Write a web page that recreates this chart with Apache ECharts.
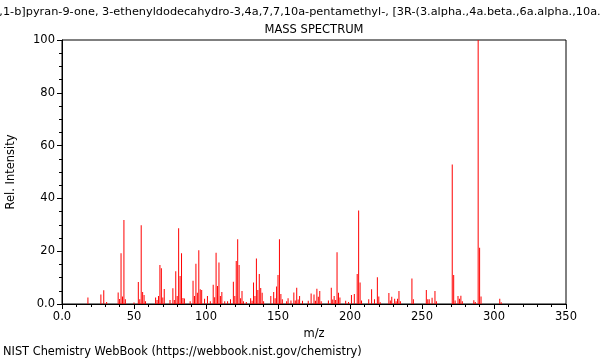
<!DOCTYPE html>
<html><head><meta charset="utf-8">
<script src="https://cdn.jsdelivr.net/npm/echarts@6/dist/echarts.min.js"></script>
<style>html,body{margin:0;padding:0;background:#fff}#c{width:600px;height:360px}</style>
</head><body><div id="c"></div>
<script>
const titleText = "1H-Naphtho[2,1-b]pyran-9-one, 3-ethenyldodecahydro-3,4a,7,7,10a-pentamethyl-, [3R-(3.alpha.,4a.beta.,6a.alpha.,10a.beta.,10b.alpha.)]-";
const subTitle = "MASS SPECTRUM";
const xName = "m/z";
const yName = "Rel. Intensity";
const footer = "NIST Chemistry WebBook (https://webbook.nist.gov/chemistry)";
const xTicks = [0, 50, 100, 150, 200, 250, 300, 350];
const yTicks = [0, 20, 40, 60, 80, 100];
const mz = [18,27,29,31,39,40,41,42,43,44,50,53,54,55,56,57,58,65,66,67,68,69,70,71,75,77,78,79,80,81,82,83,84,85,89,91,92,93,94,95,96,97,99,101,103,105,106,107,108,109,110,111,113,115,117,119,120,121,122,123,124,125,126,128,131,132,133,134,135,136,137,138,139,140,145,147,148,149,150,151,152,153,156,157,159,161,162,163,164,165,167,171,173,175,176,177,178,179,180,185,187,188,189,190,191,192,193,197,199,201,203,205,206,207,208,213,215,217,219,220,221,227,228,229,231,232,233,234,235,243,244,253,254,255,257,259,260,271,272,273,275,276,277,278,286,287,289,290,291,304,305];
const intensity = [2.5,3.6,5.2,0.8,4.4,1.9,19.2,2.8,31.8,1.8,0.6,8.3,1.8,29.8,4.5,3.4,1.0,2.5,1.5,3.0,14.8,13.5,2.5,5.7,1.5,6.0,1.5,12.4,3.0,28.7,10.6,19.2,2.3,2.1,1.0,8.8,3.0,15.2,4.3,20.4,5.6,5.3,2.0,3.0,1.0,7.3,2.6,19.4,6.8,15.7,3.0,4.5,1.0,1.0,1.8,8.4,3.0,16.3,24.5,14.8,2.2,4.9,1.0,0.8,2.2,1.2,8.1,3.0,17.2,5.3,11.4,6.1,4.3,1.0,3.0,4.5,2.2,6.6,11.0,24.5,3.8,1.8,1.0,2.2,1.3,4.4,1.3,6.2,1.7,3.0,1.2,1.2,4.0,3.6,1.2,5.8,2.7,4.9,1.0,1.3,6.2,1.7,3.0,1.5,19.6,4.3,2.5,1.2,0.8,3.4,3.8,11.4,35.4,8.1,1.3,1.8,5.6,1.8,10.1,2.8,0.7,4.2,1.3,2.7,2.0,1.0,2.0,4.9,1.0,9.7,1.8,5.3,1.8,1.8,2.4,4.9,1.0,52.8,11.0,1.3,3.0,2.0,3.1,1.0,1.4,0.8,100,21.3,2.8,2.0,0.7];

const font = 'DejaVu Sans';
const chart = echarts.init(document.getElementById('c'), null, {renderer: 'canvas'});
const fmt = v => (v === 0 ? '0.0' : String(v));
const txt = (s, x, y, align, size) => ({
  type: 'text', x: x, y: y, silent: true,
  style: {text: s, x: 0, y: 0, textAlign: align, textVerticalAlign: 'middle',
          fontFamily: font, fontSize: size, fill: '#000'}
});
chart.setOption({
  animation: false,
  backgroundColor: '#fff',
  graphic: [
    txt(titleText, 313, 12, 'center', 11.3),
    txt(subTitle, 314, 30, 'center', 11.5),
    txt(footer, 3, 352, 'left', 11.4)
  ],
  grid: {left: 62, right: 34, top: 40, bottom: 56, show: true, borderColor: '#000', borderWidth: 1,
         containLabel: false, outerBoundsMode: 'none'},
  xAxis: {
    type: 'value', min: xTicks[0], max: xTicks[xTicks.length - 1], interval: 50,
    name: xName, nameLocation: 'middle', nameGap: 24,
    nameTextStyle: {fontFamily: font, fontSize: 11.5, color: '#000'},
    axisLine: {lineStyle: {color: '#000'}},
    axisTick: {show: true, length: 5, lineStyle: {color: '#000'}},
    minorTick: {show: true, splitNumber: 5, length: 3, lineStyle: {color: '#000'}},
    splitLine: {show: false},
    axisLabel: {fontFamily: font, fontSize: 11.5, color: '#000', margin: 7, formatter: fmt}
  },
  yAxis: {
    type: 'value', min: yTicks[0], max: yTicks[yTicks.length - 1], interval: 20,
    name: yName, nameLocation: 'middle', nameGap: 45, nameRotate: 90,
    nameTextStyle: {fontFamily: font, fontSize: 11.5, color: '#000'},
    axisLine: {show: true, lineStyle: {color: '#000'}},
    axisTick: {show: true, length: 5, lineStyle: {color: '#000'}},
    minorTick: {show: true, splitNumber: 4, length: 3, lineStyle: {color: '#000'}},
    splitLine: {show: false},
    axisLabel: {fontFamily: font, fontSize: 11.5, color: '#000', margin: 7, formatter: fmt}
  },
  series: [{
    type: 'bar',
    data: mz.map((m, i) => [m, intensity[i]]),
    barWidth: 1,
    itemStyle: {color: '#ff0000'},
    silent: true
  }]
});
</script></body></html>
